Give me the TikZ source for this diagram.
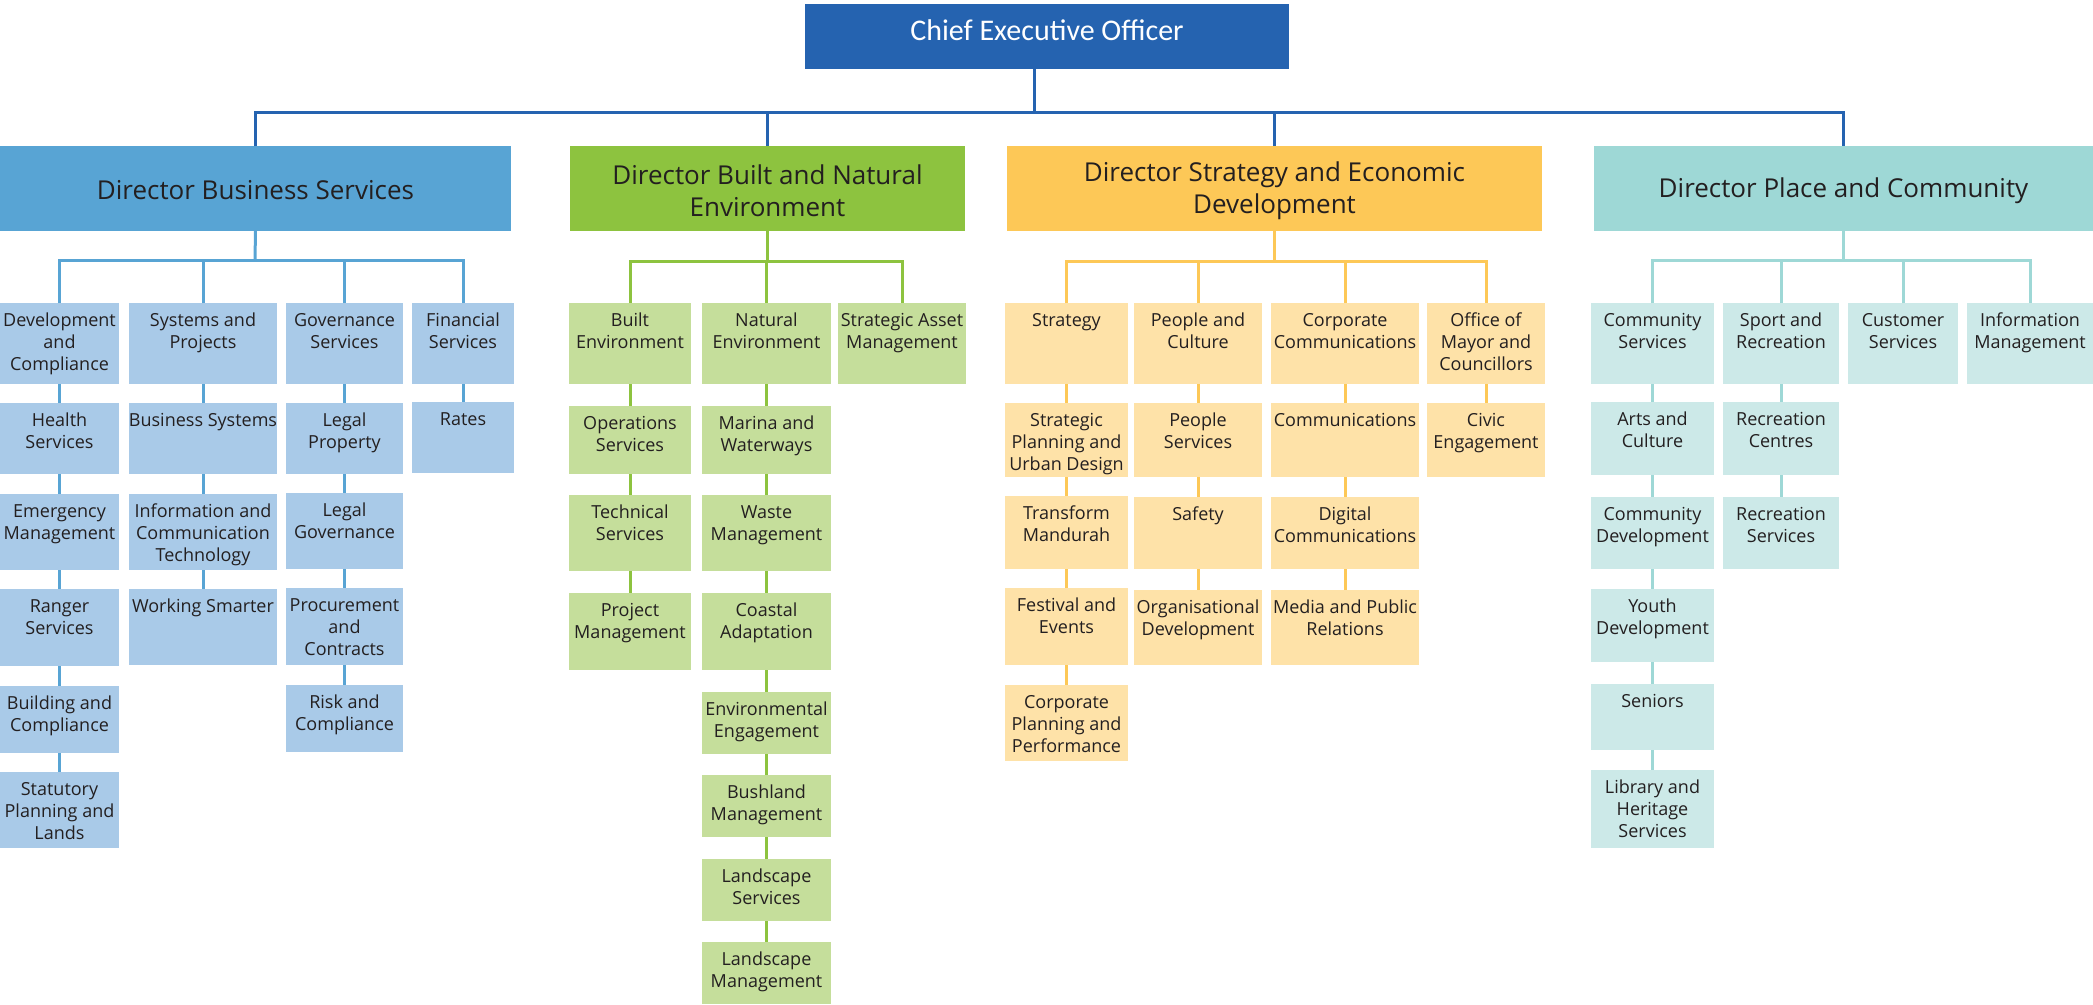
\documentclass[tikz,border=0pt]{standalone}
\usepackage{fontspec}
\setmainfont{Open Sans}
\newfontfamily\ceofont{Carlito}
\usetikzlibrary{fit}
\definecolor{ceoblue}{HTML}{2563B0}
\definecolor{bsdark}{HTML}{58A4D4}
\definecolor{bslight}{HTML}{A9CAE8}
\definecolor{bndark}{HTML}{8DC33F}
\definecolor{bnlight}{HTML}{C5DE9B}
\definecolor{sedark}{HTML}{FDC857}
\definecolor{selight}{HTML}{FEE2A8}
\definecolor{pcdark}{HTML}{9ED8D6}
\definecolor{pclight}{HTML}{CCE9E8}
\definecolor{ink}{HTML}{231F20}
\tikzset{
  boxshape/.style={rectangle, inner sep=0pt, outer sep=0pt, draw=none},
  subtext/.style={font=\fontsize{18}{22}\selectfont, text=ink, align=center, inner sep=0pt, anchor=north},
  dirtext/.style={font=\fontsize{26}{32}\selectfont, text=ink, align=center, inner sep=0pt},
  toplink/.style={draw=ceoblue, line width=3pt},
  bslink/.style={draw=bsdark, line width=3pt},
  bnlink/.style={draw=bndark, line width=3pt},
  selink/.style={draw=sedark, line width=3pt},
  pclink/.style={draw=pcdark, line width=3pt},
}
% name, x1, y1, x2, y2, fill, text
\newcommand{\orgbox}[7]{%
  \node[boxshape, fill=#6, fit={(#2,#3)(#4,#5)}] (#1) {};
  \node[subtext] (#1-t) at ([yshift=-10pt]#1.north) {#7};
}
\begin{document}
\begin{tikzpicture}[x=1pt, y=-1pt]
\useasboundingbox (0,0) rectangle (2093,1004);

% CEO
\node[boxshape, fill=ceoblue, fit={(805,4)(1289,69)}] (ceo) {};
\node[font=\ceofont\fontsize{30}{36}\selectfont, text=white, inner sep=0pt] (ceo-t) at (1047,30) {Chief Executive Officer};

% Directors
\node[boxshape, fill=bsdark, fit={(0,146)(511,231)}] (dbs) {};
\node[dirtext] (dbs-t) at ([yshift=-2pt]dbs.center) {Director Business Services};
\node[boxshape, fill=bndark, fit={(570,146)(965,231)}] (dbn) {};
\node[dirtext] (dbn-t) at ([yshift=-2pt]dbn.center) {Director Built and Natural\\Environment};
\node[boxshape, fill=sedark, fit={(1007,146)(1542,231)}] (dse) {};
\node[dirtext] (dse-t) at ([yshift=-2pt]dse.center) {Director Strategy and Economic\\Development};
\node[boxshape, fill=pcdark, fit={(1594,146)(2093,231)}] (dpc) {};
\node[dirtext] (dpc-t) at ([yshift=-2pt]dpc.center) {Director Place and Community};

% Business Services
\orgbox{dc}{0}{303}{119}{384}{bslight}{Development\\and\\Compliance}
\orgbox{hs}{0}{403}{119}{474}{bslight}{Health\\Services}
\orgbox{em}{0}{494}{119}{570}{bslight}{Emergency\\Management}
\orgbox{rs}{0}{589}{119}{666}{bslight}{Ranger\\Services}
\orgbox{bc}{0}{686}{119}{753}{bslight}{Building and\\Compliance}
\orgbox{spl}{0}{772}{119}{848}{bslight}{Statutory\\Planning and\\Lands}
\orgbox{sp}{129}{303}{277}{384}{bslight}{Systems and\\Projects}
\orgbox{bsy}{129}{403}{277}{474}{bslight}{Business Systems}
\orgbox{ict}{129}{494}{277}{570}{bslight}{Information and\\Communication\\Technology}
\orgbox{ws}{129}{589}{277}{665}{bslight}{Working Smarter}
\orgbox{gs}{286}{303}{403}{384}{bslight}{Governance\\Services}
\orgbox{lp}{286}{403}{403}{474}{bslight}{Legal\\Property}
\orgbox{lg}{286}{493}{403}{569}{bslight}{Legal\\Governance}
\orgbox{pco}{286}{588}{403}{665}{bslight}{Procurement\\and\\Contracts}
\orgbox{rc}{286}{685}{403}{752}{bslight}{Risk and\\Compliance}
\orgbox{fs}{412}{303}{514}{384}{bslight}{Financial\\Services}
\orgbox{rt}{412}{402}{514}{473}{bslight}{Rates}

% Built and Natural Environment
\orgbox{be}{569}{303}{691}{384}{bnlight}{Built\\Environment}
\orgbox{os}{569}{406}{691}{474}{bnlight}{Operations\\Services}
\orgbox{ts}{569}{495}{691}{571}{bnlight}{Technical\\Services}
\orgbox{pm}{569}{593}{691}{670}{bnlight}{Project\\Management}
\orgbox{ne}{702}{303}{831}{384}{bnlight}{Natural\\Environment}
\orgbox{mw}{702}{406}{831}{474}{bnlight}{Marina and\\Waterways}
\orgbox{wm}{702}{495}{831}{571}{bnlight}{Waste\\Management}
\orgbox{ca}{702}{593}{831}{670}{bnlight}{Coastal\\Adaptation}
\orgbox{ee}{702}{692}{831}{754}{bnlight}{Environmental\\Engagement}
\orgbox{bm}{702}{775}{831}{837}{bnlight}{Bushland\\Management}
\orgbox{ls}{702}{859}{831}{921}{bnlight}{Landscape\\Services}
\orgbox{lm}{702}{942}{831}{1004}{bnlight}{Landscape\\Management}
\orgbox{sam}{838}{303}{966}{384}{bnlight}{Strategic Asset\\Management}

% Strategy and Economic Development
\orgbox{st}{1005}{303}{1128}{384}{selight}{Strategy}
\orgbox{spud}{1005}{403}{1128}{477}{selight}{Strategic\\Planning and\\Urban Design}
\orgbox{tm}{1005}{496}{1128}{569}{selight}{Transform\\Mandurah}
\orgbox{fe}{1005}{588}{1128}{665}{selight}{Festival and\\Events}
\orgbox{cpp}{1005}{685}{1128}{761}{selight}{Corporate\\Planning and\\Performance}
\orgbox{pac}{1134}{303}{1262}{384}{selight}{People and\\Culture}
\orgbox{ps}{1134}{403}{1262}{477}{selight}{People\\Services}
\orgbox{sf}{1134}{497}{1262}{569}{selight}{Safety}
\orgbox{od}{1134}{590}{1262}{665}{selight}{Organisational\\Development}
\orgbox{cc}{1271}{303}{1419}{384}{selight}{Corporate\\Communications}
\orgbox{com}{1271}{403}{1419}{477}{selight}{Communications}
\orgbox{dcm}{1271}{497}{1419}{569}{selight}{Digital\\Communications}
\orgbox{mpr}{1271}{590}{1419}{665}{selight}{Media and Public\\Relations}
\orgbox{omc}{1427}{303}{1545}{384}{selight}{Office of\\Mayor and\\Councillors}
\orgbox{ce}{1427}{403}{1545}{477}{selight}{Civic\\Engagement}

% Place and Community
\orgbox{cs}{1591}{303}{1714}{384}{pclight}{Community\\Services}
\orgbox{ac}{1591}{402}{1714}{475}{pclight}{Arts and\\Culture}
\orgbox{cd}{1591}{497}{1714}{569}{pclight}{Community\\Development}
\orgbox{yd}{1591}{589}{1714}{662}{pclight}{Youth\\Development}
\orgbox{sn}{1591}{684}{1714}{750}{pclight}{Seniors}
\orgbox{lhs}{1591}{770}{1714}{848}{pclight}{Library and\\Heritage\\Services}
\orgbox{sr}{1723}{303}{1839}{384}{pclight}{Sport and\\Recreation}
\orgbox{rcn}{1723}{402}{1839}{475}{pclight}{Recreation\\Centres}
\orgbox{rsv}{1723}{497}{1839}{569}{pclight}{Recreation\\Services}
\orgbox{cus}{1848}{303}{1958}{384}{pclight}{Customer\\Services}
\orgbox{im}{1967}{303}{2093}{384}{pclight}{Information\\Management}

% Top level connectors
\coordinate (topbus) at (1034,112);
\draw[toplink] (ceo.south -| topbus) -- (topbus);
\draw[toplink] (dbs.north) |- (topbus) -| (dpc.north);
\draw[toplink] (dbn.north) -- (dbn.north |- topbus);
\draw[toplink] (dse.north) -- (dse.north |- topbus);

% Business Services connectors
\coordinate (bsbus) at (255,260);
\draw[bslink] (dbs.south) -- (bsbus);
\draw[bslink] (dc.north) |- (bsbus) -| (fs.north);
\draw[bslink] (sp.north) -- (sp.north |- bsbus);
\draw[bslink] (gs.north) -- (gs.north |- bsbus);
\draw[bslink] (dc.south) -- (hs.north) (hs.south) -- (em.north) (em.south) -- (rs.north) (rs.south) -- (bc.north) (bc.south) -- (spl.north);
\draw[bslink] (sp.south) -- (bsy.north) (bsy.south) -- (ict.north) (ict.south) -- (ws.north);
\draw[bslink] (gs.south) -- (lp.north) (lp.south) -- (lg.north) (lg.south) -- (pco.north) (pco.south) -- (rc.north);
\draw[bslink] (fs.south) -- (rt.north);

% Built and Natural connectors
\coordinate (bnbus) at (767.5,261);
\draw[bnlink] (dbn.south) -- (bnbus);
\draw[bnlink] (be.north) |- (bnbus) -| (sam.north);
\draw[bnlink] (ne.north) -- (ne.north |- bnbus);
\draw[bnlink] (be.south) -- (os.north) (os.south) -- (ts.north) (ts.south) -- (pm.north);
\draw[bnlink] (ne.south) -- (mw.north) (mw.south) -- (wm.north) (wm.south) -- (ca.north) (ca.south) -- (ee.north) (ee.south) -- (bm.north) (bm.south) -- (ls.north) (ls.south) -- (lm.north);

% Strategy connectors
\coordinate (sebus) at (1274.5,261);
\draw[selink] (dse.south) -- (sebus);
\draw[selink] (st.north) |- (sebus) -| (omc.north);
\draw[selink] (pac.north) -- (pac.north |- sebus);
\draw[selink] (cc.north) -- (cc.north |- sebus);
\draw[selink] (st.south) -- (spud.north) (spud.south) -- (tm.north) (tm.south) -- (fe.north) (fe.south) -- (cpp.north);
\draw[selink] (pac.south) -- (ps.north) (ps.south) -- (sf.north) (sf.south) -- (od.north);
\draw[selink] (cc.south) -- (com.north) (com.south) -- (dcm.north) (dcm.south) -- (mpr.north);
\draw[selink] (omc.south) -- (ce.north);

% Place and Community connectors
\coordinate (pcbus) at (1843.5,260);
\draw[pclink] (dpc.south) -- (pcbus);
\draw[pclink] (cs.north) |- (pcbus) -| (im.north);
\draw[pclink] (sr.north) -- (sr.north |- pcbus);
\draw[pclink] (cus.north) -- (cus.north |- pcbus);
\draw[pclink] (cs.south) -- (ac.north) (ac.south) -- (cd.north) (cd.south) -- (yd.north) (yd.south) -- (sn.north) (sn.south) -- (lhs.north);
\draw[pclink] (sr.south) -- (rcn.north) (rcn.south) -- (rsv.north);
\end{tikzpicture}
\end{document}
